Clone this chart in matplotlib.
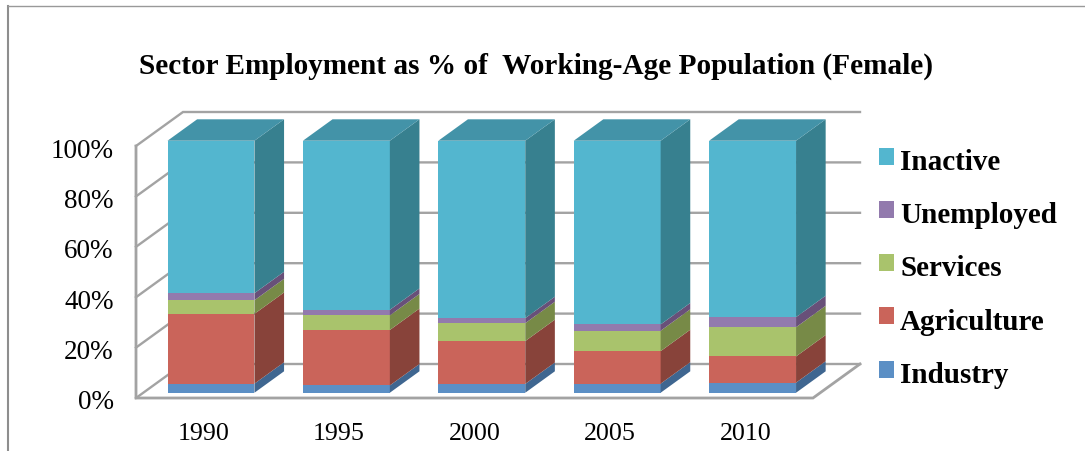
import matplotlib
matplotlib.use("Agg")
import matplotlib.pyplot as plt
from matplotlib.patches import Polygon, Patch
from matplotlib.lines import Line2D
from matplotlib.transforms import ScaledTranslation

years = ["1990", "1995", "2000", "2005", "2010"]
industry = [3.6, 2.9, 3.5, 3.6, 4.0]
agriculture = [27.7, 22.0, 17.0, 12.9, 10.4]
services = [5.4, 5.8, 7.1, 8.1, 11.6]
unemployed = [2.8, 2.2, 2.0, 2.5, 4.0]
inactive = [60.5, 67.1, 70.4, 72.9, 70.0]
series_names = ["Industry", "Agriculture", "Services", "Unemployed", "Inactive"]
series_values = [industry, agriculture, services, unemployed, inactive]
front_colors = ["#5B8FC5", "#CA645A", "#A9C36C", "#927AAD", "#53B6CF"]
side_colors = ["#3F6690", "#88433A", "#778A47", "#685079", "#37808F"]
top_color = "#4393A8"
grid_color = "#A3A3A3"
pct_ticks = [0, 20, 40, 60, 80, 100]

W, H = 1085, 452
fig = plt.figure(figsize=(W / 100, H / 100), dpi=100)
fig.patch.set_facecolor("white")
ax = fig.add_axes([136 / W, 1 - 399 / H, 677 / W, 252 / H])
ax.set_xlim(-0.5, 4.5)
ax.set_ylim(0, 100)
for s in ax.spines.values():
    s.set_visible(False)
ax.patch.set_visible(False)

SERIF = "Liberation Serif"
DX, DY = 47 / 135.4, 34 / 2.52


def proj(cat, pct, depth):
    return cat + depth * DX, pct + depth * DY


# walls and floor
xl, xr = -0.5, 4.5
for p in pct_ticks:
    a = proj(xl, p, 0)
    b = proj(xl, p, 1)
    c = proj(xr, p, 1)
    ax.plot([a[0], b[0], c[0]], [a[1], b[1], c[1]], color=grid_color, lw=1.7,
            clip_on=False, zorder=1, solid_joinstyle="miter")
ax.plot([xl, xl, xr, proj(xr, 0, 1)[0]], [100, 0, 0, proj(xr, 0, 1)[1]], color=grid_color,
        lw=2.0, clip_on=False, zorder=1, solid_joinstyle="miter")

# bars
D0, D1 = 0.155, 0.785
BW = 0.642
for i in range(len(years)):
    bottom = 0.0
    xf = i + D0 * DX
    for vals, fc, sc in zip(series_values, front_colors, side_colors):
        v = vals[i]
        yb = bottom + D0 * DY
        ax.bar(xf, v, BW, bottom=yb, color=fc, linewidth=0, zorder=3, clip_on=False)
        right = i + BW / 2
        pts = [proj(right, bottom, D0), proj(right, bottom, D1),
               proj(right, bottom + v, D1), proj(right, bottom + v, D0)]
        ax.add_patch(Polygon(pts, closed=True, fc=sc, ec="none", zorder=3, clip_on=False))
        bottom += v
    left = i - BW / 2
    right = i + BW / 2
    pts = [proj(left, bottom, D0), proj(right, bottom, D0),
           proj(right, bottom, D1), proj(left, bottom, D1)]
    ax.add_patch(Polygon(pts, closed=True, fc=top_color, ec="none", zorder=3, clip_on=False))

# ticks
ax.set_xticks(range(len(years)))
ax.set_xticklabels(years, fontfamily=SERIF, fontsize=18.7, color="black")
ax.set_yticks(pct_ticks)
ax.set_yticklabels([f"{p}%" for p in pct_ticks], fontfamily=SERIF, fontsize=19.5, color="black")
ax.tick_params(axis="both", length=0)
ax.tick_params(axis="y", pad=16)
ax.tick_params(axis="x", pad=17.3)
off = ScaledTranslation(0, -1 / 100, fig.dpi_scale_trans)
for lab in ax.get_yticklabels():
    lab.set_transform(lab.get_transform() + off)

# title
fig.text(536 / W, 1 - 66 / H, "Sector Employment as % of  Working-Age Population (Female)",
         ha="center", va="center", fontfamily=SERIF, fontweight="bold", fontsize=21.1, color="black")

# legend
handles = [Patch(fc=c, ec="none") for c in front_colors][::-1]
leg = fig.legend(handles, series_names[::-1], loc="center left",
                 bbox_to_anchor=(879 / W, 1 - 269 / H), bbox_transform=fig.transFigure,
                 frameon=False, prop={"family": SERIF, "weight": "bold", "size": 21},
                 handlelength=0.52, handleheight=0.52, handletextpad=0.2, labelspacing=0.9,
                 borderpad=0, borderaxespad=0)
for h in leg.legend_handles:
    h.set_y(h.get_y() + 1.8)

# outer frame
fig.add_artist(Line2D([8 / W, 8 / W], [0, 1 - 7 / H], color="#8E8E8E", lw=1.5,
                      transform=fig.transFigure))
fig.add_artist(Line2D([8 / W, 1], [1 - 7 / H, 1 - 7 / H], color="#999999", lw=1.0,
                      transform=fig.transFigure))

fig.savefig("out.png", dpi=100)
